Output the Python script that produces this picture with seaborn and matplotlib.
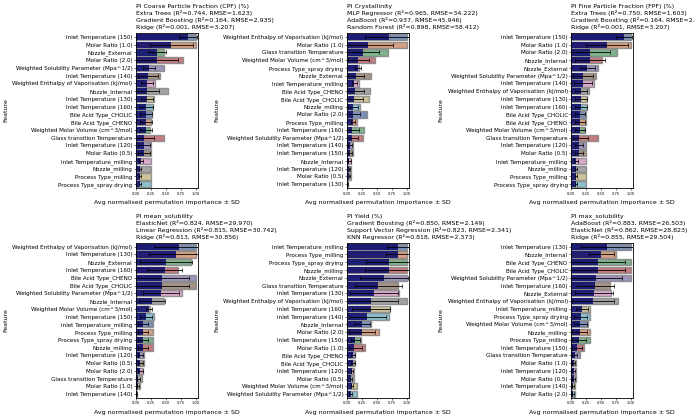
import matplotlib
matplotlib.use("Agg")
import matplotlib.pyplot as plt
import seaborn as sns

# ---- data -----------------------------------------------------------------
T120, T130, T140, T150, T160 = ("Inlet Temperature (120)", "Inlet Temperature (130)",
                                "Inlet Temperature (140)", "Inlet Temperature (150)",
                                "Inlet Temperature (160)")
TMILL = "Inlet Temperature_milling"
MR05, MR10, MR20 = "Molar Ratio (0.5)", "Molar Ratio (1.0)", "Molar Ratio (2.0)"
NEXT, NINT, NMILL = "Nozzle_External", "Nozzle_Internal", "Nozzle_milling"
PMILL, PSPRAY = "Process Type_milling", "Process Type_spray drying"
CHOLIC, CHENO = "Bile Acid Type_CHOLIC", "Bile Acid Type_CHENO"
WSP = "Weighted Solubility Parameter (Mpa^1/2)"
WEV = "Weighted Enthalpy of Vaporisation (kJ/mol)"
WMV = "Weighted Molar Volume (cm^3/mol)"
GTT = "Glass transition Temperature"

titles = [
    "PI Coarse Particle Fraction (CPF) (%)\nExtra Trees (R²=0.744, RMSE=1.623)\n"
    "Gradient Boosting (R²=0.164, RMSE=2.935)\nRidge (R²=0.001, RMSE=3.207)",
    "PI Crystallinity\nMLP Regressor (R²=0.965, RMSE=34.222)\n"
    "AdaBoost (R²=0.937, RMSE=45.946)\nRandom Forest (R²=0.898, RMSE=58.412)",
    "PI Fine Particle Fraction (FPF) (%)\nExtra Trees (R²=0.750, RMSE=1.603)\n"
    "Gradient Boosting (R²=0.164, RMSE=2.935)\nRidge (R²=0.001, RMSE=3.207)",
    "PI mean_solubility\nElasticNet (R²=0.824, RMSE=29.970)\n"
    "Linear Regression (R²=0.815, RMSE=30.742)\nRidge (R²=0.813, RMSE=30.856)",
    "PI Yield (%)\nGradient Boosting (R²=0.850, RMSE=2.149)\n"
    "Support Vector Regression (R²=0.823, RMSE=2.341)\nKNN Regressor (R²=0.818, RMSE=2.373)",
    "PI max_solubility\nAdaBoost (R²=0.883, RMSE=26.503)\n"
    "ElasticNet (R²=0.862, RMSE=28.823)\nRidge (R²=0.855, RMSE=29.504)",
]

feats_cpf = [T150, MR10, NEXT, MR20, WSP, T140, WEV, NINT, T130, T160,
             CHOLIC, CHENO, WMV, GTT, T120, MR05, TMILL, NMILL, PMILL, PSPRAY]
top_cpf = [1.0, 1.0, 0.46, 0.78, 0.46, 0.40, 0.32, 0.54, 0.30, 0.28,
           0.26, 0.25, 0.24, 0.46, 0.25, 0.25, 0.25, 0.25, 0.25, 0.25]
mean_cpf = [0.87, 0.59, 0.35, 0.35, 0.22, 0.20, 0.18, 0.18, 0.18, 0.17,
            0.17, 0.17, 0.16, 0.14, 0.14, 0.14, 0.08, 0.07, 0.07, 0.07]
sd_cpf = [0.155, 0.36, 0.145, 0.35, 0.10, 0.17, 0.10, 0.20, 0.10, 0.12,
          0.10, 0.10, 0.10, 0.16, 0.10, 0.10, 0.03, 0.02, 0.02, 0.02]

feats_cry = [WEV, MR10, GTT, WMV, PSPRAY, NEXT, TMILL, CHENO, CHOLIC, NMILL,
             MR20, PMILL, T160, WSP, T140, T150, NINT, T120, MR05, T130]
top_cry = [1.0, 1.0, 0.68, 0.47, 0.20, 0.40, 0.20, 0.38, 0.37, 0.22,
           0.33, 0.16, 0.28, 0.27, 0.10, 0.10, 0.07, 0.06, 0.06, 0.02]
mean_cry = [0.70, 0.35, 0.26, 0.19, 0.18, 0.15, 0.12, 0.13, 0.12, 0.10,
            0.10, 0.10, 0.09, 0.09, 0.05, 0.05, 0.04, 0.04, 0.04, 0.01]
sd_cry = [0.40, 0.41, 0.28, 0.17, 0.05, 0.14, 0.04, 0.16, 0.15, 0.08,
          0.12, 0.04, 0.11, 0.10, 0.03, 0.03, 0.02, 0.01, 0.01, 0.005]

feats_fpf = [T150, MR10, MR20, NINT, NEXT, WSP, T140, WEV, T130, T160,
             CHOLIC, CHENO, WMV, GTT, T120, MR05, TMILL, NMILL, PMILL, PSPRAY]
top_fpf = [1.0, 1.0, 0.76, 0.52, 0.44, 0.42, 0.38, 0.30, 0.27, 0.27,
           0.25, 0.25, 0.23, 0.44, 0.24, 0.25, 0.24, 0.24, 0.24, 0.24]
mean_fpf = [0.88, 0.59, 0.32, 0.32, 0.27, 0.20, 0.20, 0.16, 0.16, 0.16,
            0.15, 0.15, 0.15, 0.13, 0.13, 0.13, 0.08, 0.08, 0.08, 0.08]
sd_fpf = [0.135, 0.35, 0.33, 0.25, 0.13, 0.17, 0.15, 0.10, 0.10, 0.10,
          0.08, 0.08, 0.08, 0.15, 0.07, 0.07, 0.03, 0.02, 0.02, 0.02]

feats_msol = [WEV, T130, NEXT, T160, CHENO, CHOLIC, WSP, NINT, WMV, T150,
              TMILL, PMILL, PSPRAY, NMILL, T120, MR05, MR20, GTT, MR10, T140]
top_msol = [1.0, 1.0, 0.92, 0.70, 1.0, 1.0, 0.76, 0.46, 0.24, 0.30,
            0.28, 0.28, 0.28, 0.28, 0.14, 0.14, 0.12, 0.10, 0.07, 0.02]
mean_msol = [0.72, 0.66, 0.50, 0.48, 0.44, 0.44, 0.41, 0.27, 0.21, 0.16,
             0.12, 0.12, 0.12, 0.12, 0.07, 0.07, 0.07, 0.04, 0.03, 0.01]
sd_msol = [0.42, 0.45, 0.44, 0.29, 0.45, 0.45, 0.30, 0.22, 0.05, 0.10,
           0.08, 0.08, 0.08, 0.08, 0.04, 0.04, 0.04, 0.02, 0.02, 0.01]

feats_yld = [TMILL, PMILL, PSPRAY, NMILL, NEXT, GTT, T130, WEV, T160, T140,
             NINT, MR20, T150, MR10, CHENO, CHOLIC, T120, MR05, WMV, WSP]
top_yld = [1.0, 1.0, 1.0, 1.0, 1.0, 0.85, 0.87, 1.0, 0.72, 0.70,
           0.40, 0.54, 0.24, 0.30, 0.14, 0.14, 0.12, 0.12, 0.17, 0.17]
mean_yld = [0.85, 0.85, 0.70, 0.70, 0.62, 0.52, 0.45, 0.40, 0.40, 0.34,
            0.25, 0.25, 0.14, 0.12, 0.10, 0.10, 0.08, 0.07, 0.08, 0.06]
sd_yld = [0.19, 0.20, 0.39, 0.40, 0.40, 0.39, 0.40, 0.45, 0.32, 0.31,
          0.14, 0.22, 0.08, 0.13, 0.03, 0.03, 0.02, 0.02, 0.02, 0.02]

feats_xsol = [T130, NINT, CHENO, CHOLIC, WSP, T160, NEXT, WEV, TMILL, PSPRAY,
              WMV, NMILL, PMILL, T150, GTT, MR10, T120, MR05, T140, MR20]
top_xsol = [1.0, 0.75, 1.0, 1.0, 1.0, 0.65, 0.67, 0.78, 0.31, 0.31,
            0.28, 0.31, 0.31, 0.22, 0.14, 0.08, 0.08, 0.08, 0.07, 0.06]
mean_xsol = [0.60, 0.50, 0.44, 0.44, 0.42, 0.40, 0.38, 0.36, 0.18, 0.16,
             0.15, 0.14, 0.13, 0.10, 0.06, 0.04, 0.04, 0.04, 0.03, 0.03]
sd_xsol = [0.44, 0.21, 0.45, 0.45, 0.43, 0.31, 0.32, 0.35, 0.10, 0.11,
           0.11, 0.12, 0.12, 0.08, 0.04, 0.02, 0.02, 0.02, 0.02, 0.01]

panels = [
    (feats_cpf, top_cpf, mean_cpf, sd_cpf),
    (feats_cry, top_cry, mean_cry, sd_cry),
    (feats_fpf, top_fpf, mean_fpf, sd_fpf),
    (feats_msol, top_msol, mean_msol, sd_msol),
    (feats_yld, top_yld, mean_yld, sd_yld),
    (feats_xsol, top_xsol, mean_xsol, sd_xsol),
]

# ---- figure ---------------------------------------------------------------
plt.rcParams["font.family"] = ["DejaVu Sans"]
plt.rcParams["axes.linewidth"] = 0.6

fig = plt.figure(figsize=(6.94, 4.18), dpi=100)
lefts = [0.196, 0.500, 0.823]
bottoms = [0.550, 0.048]
w, h = 0.089, 0.371

for k, (feats, top, mean, sd) in enumerate(panels):
    ax = fig.add_axes([lefts[k % 3], bottoms[k // 3], w, h])
    sns.barplot(x=top, y=feats, hue=feats, palette="deep", legend=False,
                alpha=0.8, edgecolor="grey", linewidth=1.0, width=0.8, ax=ax)
    sns.barplot(x=mean, y=feats, color="navy", alpha=0.9, width=0.8,
                linewidth=0, ax=ax)
    ax.errorbar(mean, list(range(len(feats))), xerr=sd, fmt="none",
                ecolor="black", elinewidth=0.6, capsize=1.2, capthick=0.5)
    ax.set_xlim(0, 1.03)
    ax.set_ylim(len(feats) - 0.5, -0.5)
    ax.set_xticks([0, 0.25, 0.5, 0.75, 1.0])
    ax.set_xticklabels(["0.00", "0.25", "0.50", "0.75", "1.00"])
    ax.tick_params(axis="x", labelsize=2.6, length=1.5, width=0.4, pad=1)
    ax.tick_params(axis="y", labelsize=4.1, length=1.5, width=0.4, pad=1)
    ax.set_title(titles[k], loc="left", fontsize=4.5, pad=3, linespacing=1.2)
    ax.set_xlabel("Avg normalised permutation importance ± SD", fontsize=4.5, labelpad=3)
    ax.set_ylabel("Feature", fontsize=4.5, labelpad=3)

fig.savefig("out.png", dpi=100)
plt.close(fig)
